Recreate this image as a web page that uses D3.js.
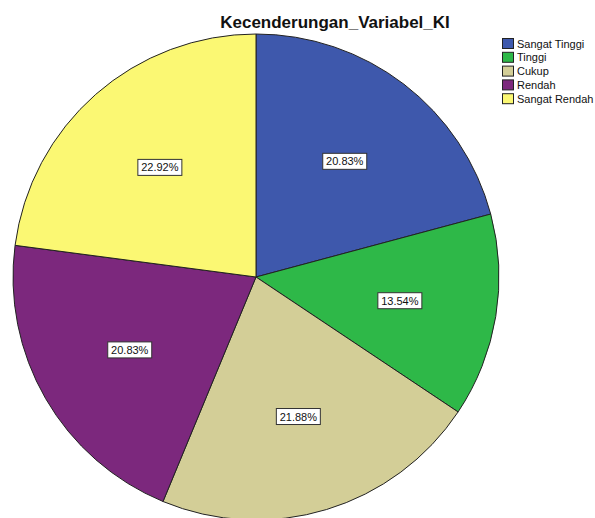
<!DOCTYPE html>
<html>
<head>
<meta charset="utf-8">
<script src="https://cdn.jsdelivr.net/npm/d3@7"></script>
<style>
  body { margin: 0; background: #fff; }
  svg { display: block; font-family: "Liberation Sans", Arial, sans-serif; }
</style>
</head>
<body>
<div class="svg-container"></div>
<script>
// chart data
const categories = ['Sangat Tinggi', 'Tinggi', 'Cukup', 'Rendah', 'Sangat Rendah'];
const percents = [20.83, 13.54, 21.88, 20.83, 22.92];
const colours = ['#3e58ac', '#2eb848', '#d3ce97', '#7c287d', '#fbf873'];
const title = 'Kecenderungan_Variabel_KI';

// set up dimensions
const width = 595;
const height = 518;
const cx = 256;
const cy = 277;
const radius = 243;
const legendX = 502;
const legendY = 38;
const legendRowHeight = 13.8;

const colourScale = d3.scaleOrdinal()
  .domain(categories)
  .range(colours);

const svg = d3.select('.svg-container')
  .append('svg')
  .attr('width', width)
  .attr('height', height);

// title
svg.append('text')
  .attr('x', 335)
  .attr('y', 28)
  .attr('text-anchor', 'middle')
  .style('font-size', '17px')
  .style('font-weight', 'bold')
  .attr('fill', '#111')
  .text(title);

const pie = d3.pie()
  .sort(null)
  .value(d => d.value);

const arcs = pie(categories.map((c, i) => ({ name: c, value: percents[i] })));

const arc = d3.arc()
  .innerRadius(0)
  .outerRadius(radius);

const labelArc = d3.arc()
  .innerRadius(radius * 0.6)
  .outerRadius(radius * 0.6);

const g = svg.append('g')
  .attr('transform', `translate(${cx},${cy})`);

g.selectAll('path')
  .data(arcs)
  .enter()
  .append('path')
  .attr('d', arc)
  .attr('fill', d => colourScale(d.data.name))
  .attr('stroke', '#222')
  .attr('stroke-width', 1);

// value labels with white boxes
const labels = g.selectAll('g.label')
  .data(arcs)
  .enter()
  .append('g')
  .attr('class', 'label')
  .attr('transform', d => `translate(${labelArc.centroid(d)})`);

labels.append('rect')
  .attr('x', -22)
  .attr('y', -8)
  .attr('width', 44)
  .attr('height', 16)
  .attr('fill', '#fff')
  .attr('stroke', '#333')
  .attr('stroke-width', 1);

labels.append('text')
  .attr('text-anchor', 'middle')
  .attr('dy', 4)
  .style('font-size', '11px')
  .attr('fill', '#111')
  .text(d => d.data.value.toFixed(2) + '%');

// legend
const legend = svg.append('g')
  .attr('id', 'legend');

legend.selectAll('rect')
  .data(categories)
  .enter()
  .append('rect')
  .attr('x', legendX + 0.5)
  .attr('y', (d, i) => legendY + i * legendRowHeight + 0.5)
  .attr('width', 11)
  .attr('height', 10)
  .attr('fill', d => colourScale(d))
  .attr('stroke', '#222')
  .attr('stroke-width', 1);

legend.selectAll('text')
  .data(categories)
  .enter()
  .append('text')
  .attr('x', legendX + 15)
  .attr('y', (d, i) => legendY + i * legendRowHeight + 9.5)
  .style('font-size', '11px')
  .attr('fill', '#111')
  .text(d => d);
</script>
</body>
</html>
